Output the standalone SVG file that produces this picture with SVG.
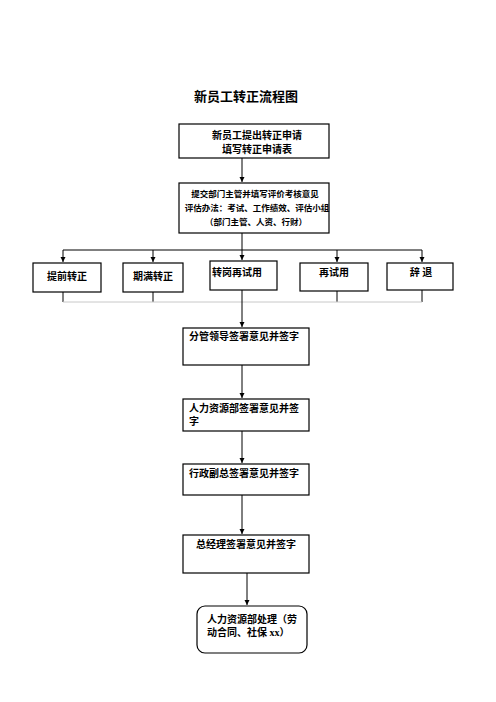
<svg xmlns="http://www.w3.org/2000/svg" width="496" height="702" viewBox="0 0 496 702">
<style>
text{font-family:"Liberation Serif","Noto Sans CJK SC",sans-serif;font-weight:bold;fill:#000}
.t{font-size:13px}
.n{font-size:10px}
.s{font-size:8.5px}
.box{fill:#fff;stroke:#000;stroke-width:1.2}
.ln{fill:none;stroke:#000;stroke-width:1}
.faint{fill:none;stroke:#c8c8c8;stroke-width:1}
</style>
<defs>
<marker id="ah" markerWidth="6" markerHeight="6" refX="5" refY="2.5" orient="auto" markerUnits="userSpaceOnUse">
<path d="M0,0 L5,2.5 L0,5 Z" fill="#000"/>
</marker>
</defs>
<rect width="496" height="702" fill="#fff"/>
<text class="t" x="246" y="101" text-anchor="middle">新员工转正流程图</text>

<g id="connectors">
<line class="ln" x1="242" y1="158" x2="242" y2="182" marker-end="url(#ah)"/>
<line class="ln" x1="242" y1="233" x2="242" y2="260" marker-end="url(#ah)"/>
<line class="ln" x1="63" y1="250" x2="422" y2="250"/>
<line class="ln" x1="63" y1="250" x2="63" y2="262" marker-end="url(#ah)"/>
<line class="ln" x1="153" y1="250" x2="153" y2="262" marker-end="url(#ah)"/>
<line class="ln" x1="337" y1="250" x2="337" y2="262" marker-end="url(#ah)"/>
<line class="ln" x1="422" y1="250" x2="422" y2="262" marker-end="url(#ah)"/>
<line class="ln" x1="63" y1="292" x2="63" y2="302"/>
<line class="ln" x1="153" y1="292" x2="153" y2="302"/>
<line class="ln" x1="337" y1="291" x2="337" y2="302"/>
<line class="ln" x1="422" y1="290" x2="422" y2="302"/>
<line class="faint" x1="63" y1="302" x2="422" y2="302"/>
<line class="ln" x1="242" y1="290" x2="242" y2="327" marker-end="url(#ah)"/>
<line class="ln" x1="242" y1="365" x2="242" y2="398" marker-end="url(#ah)"/>
<line class="ln" x1="242" y1="431" x2="242" y2="463" marker-end="url(#ah)"/>
<line class="ln" x1="242" y1="495" x2="242" y2="534" marker-end="url(#ah)"/>
<line class="ln" x1="247" y1="573" x2="247" y2="605" marker-end="url(#ah)"/>
</g>

<g id="n1">
<rect class="box" x="179" y="124" width="150" height="34"/>
<text class="n" x="257" y="139" text-anchor="middle">新员工提出转正申请</text>
<text class="n" x="257" y="153" text-anchor="middle">填写转正申请表</text>
</g>
<g id="n2">
<rect class="box" x="179" y="183" width="150" height="50"/>
<text class="s" x="255" y="197" text-anchor="middle">提交部门主管并填写评价考核意见</text>
<text class="s" x="257" y="211" text-anchor="middle">评估办法：考试、工作绩效、评估小组</text>
<text class="s" x="256" y="225" text-anchor="middle">（部门主管、人资、行财）</text>
</g>
<g id="n3">
<rect class="box" x="33" y="263" width="68" height="29"/>
<text class="n" x="67" y="280" text-anchor="middle">提前转正</text>
</g>
<g id="n4">
<rect class="box" x="123" y="263" width="60" height="29"/>
<text class="n" x="153" y="280" text-anchor="middle">期满转正</text>
</g>
<g id="n5">
<rect class="box" x="210" y="261" width="67" height="29"/>
<text class="n" x="212" y="276">转岗再试用</text>
</g>
<g id="n6">
<rect class="box" x="300" y="263" width="68" height="28"/>
<text class="n" x="334" y="276" text-anchor="middle">再试用</text>
</g>
<g id="n7">
<rect class="box" x="387" y="263" width="66" height="27"/>
<text class="n" x="421" y="276" text-anchor="middle">辞   退</text>
</g>
<g id="n8">
<rect class="box" x="183" y="328" width="126" height="37"/>
<text class="n" x="189" y="340">分管领导签署意见并签字</text>
</g>
<g id="n9">
<rect class="box" x="183" y="399" width="126" height="32"/>
<text class="n" x="189" y="412">人力资源部签署意见并签</text>
<text class="n" x="189" y="425">字</text>
</g>
<g id="n10">
<rect class="box" x="183" y="464" width="126" height="31"/>
<text class="n" x="189" y="477">行政副总签署意见并签字</text>
</g>
<g id="n11">
<rect class="box" x="183" y="535" width="126" height="38"/>
<text class="n" x="246" y="548" text-anchor="middle">总经理签署意见并签字</text>
</g>
<g id="n12">
<rect class="box" x="197" y="606" width="110" height="47" rx="8" ry="8"/>
<text class="n" x="207" y="623">人力资源部处理（劳</text>
<text class="n" x="207" y="636">动合同、社保 xx）</text>
</g>
</svg>
